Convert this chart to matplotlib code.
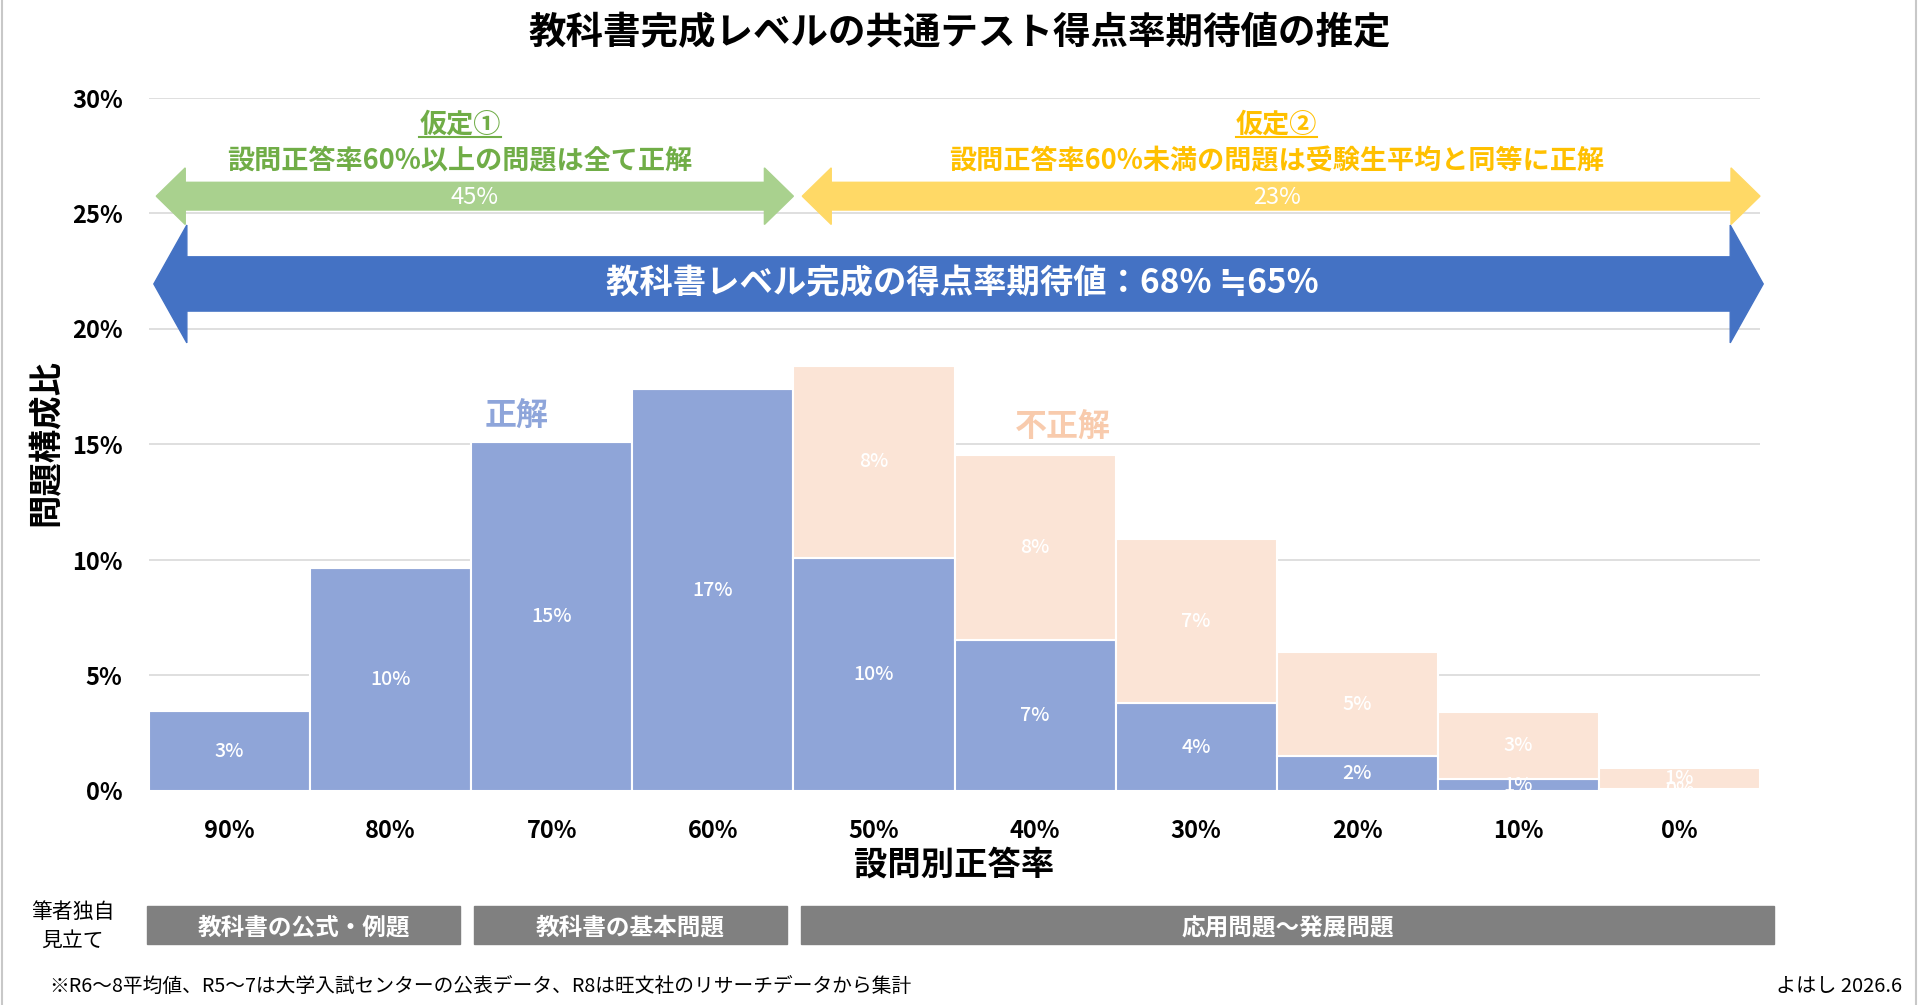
import numpy as np
import matplotlib
matplotlib.use("Agg")
import matplotlib.pyplot as plt
from matplotlib.patches import Polygon, Rectangle
from matplotlib.lines import Line2D

plt.rcParams['font.family'] = ['Noto Sans CJK JP', 'DejaVu Sans']

# data (percent of all questions)
categories = ["90%", "80%", "70%", "60%", "50%", "40%", "30%", "20%", "10%", "0%"]
correct = [3.45, 9.65, 15.1, 17.4, 10.1, 6.55, 3.8, 1.5, 0.5, 0.1]
incorrect = [0, 0, 0, 0, 8.3, 8.0, 7.1, 4.5, 2.9, 0.9]
correct_labels = ["3%", "10%", "15%", "17%", "10%", "7%", "4%", "2%", "1%", "0%"]
incorrect_labels = ["", "", "", "", "8%", "8%", "7%", "5%", "3%", "1%"]
yticks = [0, 5, 10, 15, 20, 25, 30]
groups = ["教科書の公式・例題", "教科書の基本問題", "応用問題～発展問題"]

BLUE = "#8FA5D8"
PEACH = "#FBE4D6"

fig = plt.figure(figsize=(19.2, 10.05), dpi=100)
ax = fig.add_axes([149/1920, 1-791/1005, 1611/1920, 693/1005])

x = np.arange(len(categories))
ax.bar(x, correct, width=1.0, color=BLUE, edgecolor="white", linewidth=1.5, zorder=2)
ax.bar(x, incorrect, width=1.0, bottom=correct, color=PEACH, edgecolor="white", linewidth=1.5, zorder=2)

for i in range(len(categories)):
    ax.text(x[i], correct[i] / 2, correct_labels[i], ha="center", va="center",
            color="white", fontsize=14, fontweight="medium", zorder=3)
    if incorrect_labels[i]:
        ax.text(x[i], correct[i] + incorrect[i] / 2, incorrect_labels[i], ha="center",
                va="center", color="white", fontsize=14, fontweight="medium", zorder=3)

ax.set_xlim(-0.5, len(categories) - 0.5)
ax.set_ylim(0, 30)
ax.set_yticks(yticks)
ax.set_yticklabels([f"{v}%" for v in yticks], fontsize=17, fontweight="bold")
ax.set_xticks(x)
ax.set_xticklabels(categories, fontsize=17, fontweight="bold")
ax.tick_params(axis="both", length=0)
ax.tick_params(axis="y", pad=19)
ax.tick_params(axis="x", pad=20)
ax.grid(axis="y", color="#D9D9D9", linewidth=1.2, zorder=0)
ax.set_axisbelow(True)
for s in ax.spines.values():
    s.set_visible(False)

ax.set_xlabel("設問別正答率", fontsize=24, fontweight="bold", labelpad=4)
fig.text(46/1920, 1-443/1005, "問題構成比", rotation=90, ha="center", va="center",
         fontsize=24, fontweight="bold")

fig.suptitle("教科書完成レベルの共通テスト得点率期待値の推定", fontsize=27,
             fontweight="bold", y=1-33/1005, va="center")


def double_arrow(x0, x1, yc, shaft, head, hlen, color):
    pts = [(x0, yc), (x0 + hlen, yc + head / 2), (x0 + hlen, yc + shaft / 2),
           (x1 - hlen, yc + shaft / 2), (x1 - hlen, yc + head / 2), (x1, yc),
           (x1 - hlen, yc - head / 2), (x1 - hlen, yc - shaft / 2),
           (x0 + hlen, yc - shaft / 2), (x0 + hlen, yc - head / 2)]
    ax.add_patch(Polygon(pts, closed=True, color=color, zorder=4, clip_on=False))


split = 3.5  # boundary between 60% and 50%
double_arrow(-0.455, split, 25.75, 1.2, 2.45, 0.18, "#A9D18E")
double_arrow(split + 0.055, 9.5, 25.75, 1.2, 2.45, 0.18, "#FFD966")
double_arrow(-0.47, 9.52, 21.95, 2.35, 5.1, 0.205, "#4472C4")

ax.text((-0.455 + split) / 2, 25.7, "45%", ha="center", va="center", color="white", fontsize=17, zorder=5)
ax.text((split + 9.5) / 2, 25.7, "23%", ha="center", va="center", color="white", fontsize=17, zorder=5)
ax.text(4.55, 21.95, "教科書レベル完成の得点率期待値：68% ≒65%", ha="center", va="center",
        color="white", fontsize=24, fontweight="bold", zorder=5)

t1 = ax.text(1.43, 28.85, "仮定①", ha="center", va="center", color="#70AD47", fontsize=19.5, fontweight="bold")
ax.text(1.43, 27.25, "設問正答率60%以上の問題は全て正解", ha="center", va="center",
        color="#70AD47", fontsize=19.5, fontweight="bold")
t2 = ax.text(6.5, 28.85, "仮定②", ha="center", va="center", color="#FFC000", fontsize=19.5, fontweight="bold")
ax.text(6.5, 27.25, "設問正答率60%未満の問題は受験生平均と同等に正解", ha="center", va="center",
        color="#FFC000", fontsize=19.5, fontweight="bold")

ax.text(1.78, 16.2, "正解", ha="center", va="center", color="#8EA5DA", fontsize=23, fontweight="bold")
ax.text(5.17, 15.7, "不正解", ha="center", va="center", color="#F8CBAD", fontsize=23, fontweight="bold")

# underline the 仮定 headings
fig.canvas.draw()
for t, c in [(t1, "#70AD47"), (t2, "#FFC000")]:
    bb = t.get_window_extent().transformed(fig.transFigure.inverted())
    fig.add_artist(Line2D([bb.x0, bb.x1], [bb.y0 + 0.002, bb.y0 + 0.002], color=c, linewidth=1.5))

# grey category boxes below the chart
box_px = [(147, 460), (474, 787), (801, 1774)]
for (l, r), g in zip(box_px, groups):
    fig.add_artist(Rectangle((l/1920, 1-944/1005), (r-l)/1920, 38/1005,
                             transform=fig.transFigure, color="#808080"))
    fig.text((l + r) / 2 / 1920, 1-927/1005, g, ha="center", va="center",
             color="white", fontsize=17, fontweight="bold")

fig.text(73/1920, 1-912/1005, "筆者独自", ha="center", va="center", fontsize=15)
fig.text(73/1920, 1-941/1005, "見立て", ha="center", va="center", fontsize=15)
fig.text(49/1920, 1-986/1005, "※R6～8平均値、R5～7は大学入試センターの公表データ、R8は旺文社のリサーチデータから集計",
         ha="left", va="center", fontsize=14.2)
fig.text(1902/1920, 1-986/1005, "よはし 2026.6", ha="right", va="center", fontsize=14.5)

# thin frame at the figure edges
fig.add_artist(Line2D([0.001, 0.001], [0, 1], color="#C8C8C8", linewidth=1.5))
fig.add_artist(Line2D([0.998, 0.998], [0, 1], color="#C8C8C8", linewidth=1.5))

fig.savefig("out.png", dpi=100)
